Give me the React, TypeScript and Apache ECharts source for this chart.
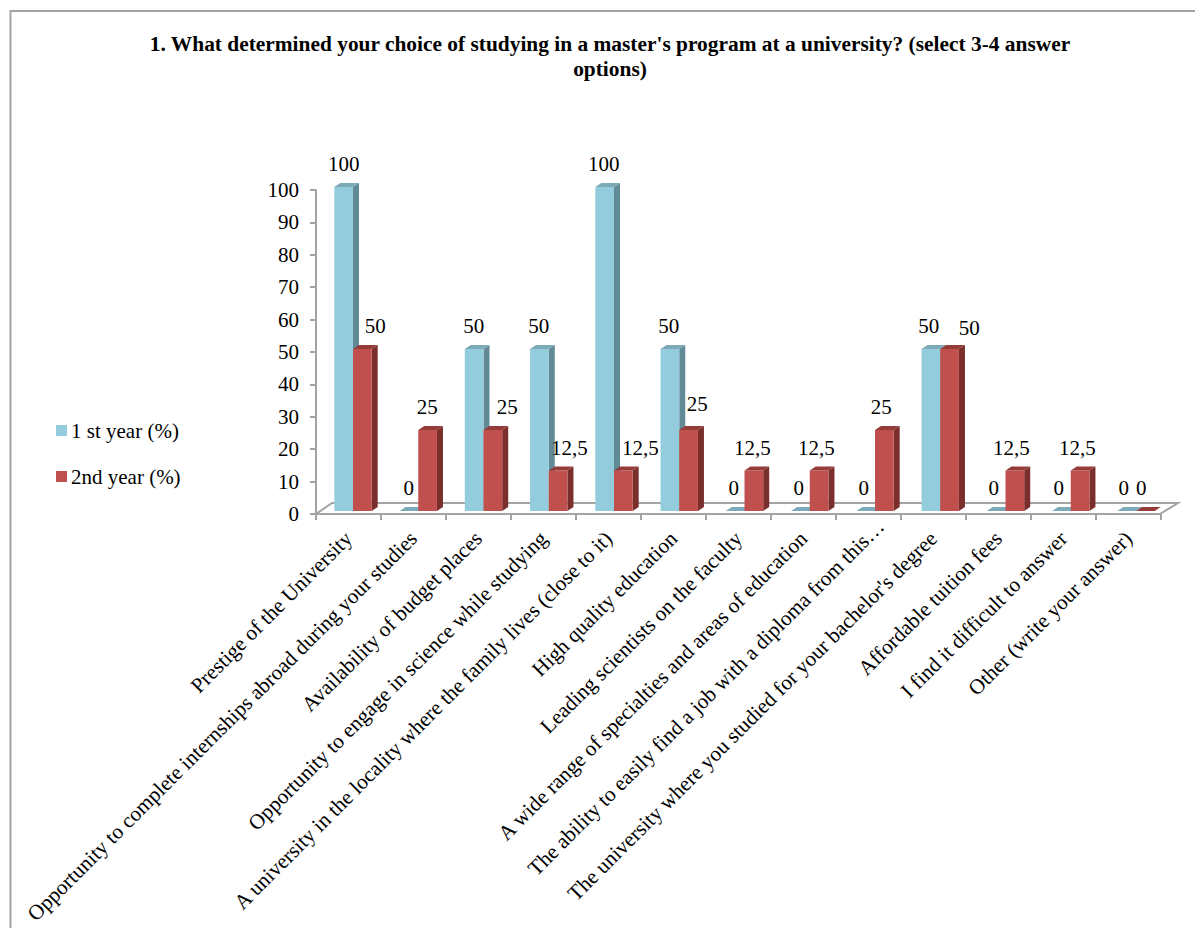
import React, { useEffect, useRef } from "react";
import * as echarts from "echarts";

const categories = [
  "Prestige of the University",
  "Opportunity to complete internships abroad during your studies",
  "Availability of budget places",
  "Opportunity to engage in science while studying",
  "A university in the locality where the family lives (close to it)",
  "High quality education",
  "Leading scientists on the faculty",
  "A wide range of specialties and areas of education",
  "The ability to easily find a job with a diploma from this…",
  "The university where you studied for your bachelor's degree",
  "Affordable tuition fees",
  "I find it difficult to answer",
  "Other (write your answer)",
];
const firstYear = [100, 0, 50, 50, 100, 50, 0, 0, 0, 50, 0, 0, 0];
const secondYear = [50, 25, 25, 12.5, 12.5, 25, 12.5, 12.5, 25, 50, 12.5, 12.5, 0];
const yTicks = { min: 0, max: 100, interval: 10 };
const titleText =
  "1. What determined your choice of studying in a master's program at a university? (select 3-4 answer\noptions)";

// hand-placed label shifts seen in the reference, in pixels
const secondLabelShiftX = [13, 0, 15, 12, 18, 10, 0, -1, -1, 22, -1, 0, -1];
const secondLabelShiftY = [0, 0, 0, 0, 0, -3, 0, 0, 0, 2, 0, 0, 0];
const TRUNCATED_CATEGORY = 8;

const FONT = '"Liberation Serif", "Times New Roman", serif';
const GRAY = "#a3a3a3";
const GRID = { left: 316, top: 190, width: 845, height: 324 };
const BAR_W = 18.7;
const BAR_DRIFT = 0.25;
const DX = 6;
const DY = 4;

const palette = [
  { front: "#93cddd", side: "#5f8a96", top: "#7caab7" },
  { front: "#c0504d", side: "#7a2f2d", top: "#953b38" },
];

function makeRender(seriesIndex: number, shiftX: number[], shiftY: number[]) {
  const c = palette[seriesIndex];
  return (params: any, api: any) => {
    const i = api.value(0);
    const v = api.value(1);
    const [cx, yBase] = api.coord([i, 0]);
    const yTop = api.coord([i, v])[1] - 3;
    const y0 = yBase - 3;
    const xLabel = cx + 4.5 + (seriesIndex === 0 ? -BAR_W : 0);
    const x0 = xLabel + BAR_DRIFT * i;
    const x1 = x0 + BAR_W;
    const children: any[] = [];
    if (v > 0) {
      children.push({
        type: "polygon",
        shape: { points: [[x1, yTop], [x1 + DX, yTop - DY], [x1 + DX, y0 - DY], [x1, y0]] },
        style: { fill: c.side },
      });
      children.push({
        type: "rect",
        shape: { x: x0, y: yTop, width: BAR_W, height: y0 - yTop },
        style: { fill: c.front },
      });
    }
    children.push({
      type: "polygon",
      shape: { points: [[x0, yTop], [x1, yTop], [x1 + DX, yTop - DY], [x0 + DX, yTop - DY]] },
      style: { fill: c.top },
    });
    children.push({
      type: "text",
      style: {
        text: String(v).replace(".", ","),
        x: xLabel + BAR_W / 2 + shiftX[params.dataIndex],
        y: yTop - 23 + shiftY[params.dataIndex],
        fill: "#000",
        font: `21px ${FONT}`,
        align: "center",
        verticalAlign: "middle",
      },
    });
    return { type: "group", children };
  };
}

export default function App() {
  const ref = useRef<HTMLDivElement>(null);
  useEffect(() => {
    const chart = echarts.init(ref.current!, undefined, { renderer: "svg" });
    const zeros = categories.map(() => 0);
    chart.setOption({
      animation: false,
      backgroundColor: "#fff",
      textStyle: { fontFamily: FONT },
      title: {
        text: titleText,
        left: 605,
        top: 26,
        textAlign: "center",
        textStyle: { fontFamily: FONT, fontSize: 21.4, fontWeight: "bold", color: "#000", lineHeight: 25 },
      },
      legend: {
        orient: "vertical",
        left: 51,
        top: 415,
        itemWidth: 11,
        itemHeight: 11,
        itemGap: 25,
        icon: "rect",
        textStyle: { fontFamily: FONT, fontSize: 21, color: "#000", padding: [0, 0, 0, -1] },
        data: ["1 st year (%)", "2nd year (%)"],
      },
      grid: { ...GRID, containLabel: false },
      xAxis: {
        type: "category",
        data: categories.map((value, i) =>
          i === TRUNCATED_CATEGORY ? { value, textStyle: { padding: [0, -17, 0, 0] } } : value
        ),
        axisLine: { lineStyle: { color: GRAY, width: 2 } },
        axisTick: { show: true, length: 6, alignWithLabel: false, lineStyle: { color: GRAY, width: 2 } },
        axisLabel: { interval: 0, rotate: 45, fontFamily: FONT, fontSize: 21.3, color: "#000", margin: 21 },
      },
      yAxis: {
        type: "value",
        ...yTicks,
        axisLine: { show: true, lineStyle: { color: GRAY, width: 2 } },
        axisTick: { show: true, length: 6, lineStyle: { color: GRAY, width: 2 } },
        axisLabel: { fontFamily: FONT, fontSize: 21, color: "#000", margin: 17 },
        splitLine: { show: false },
      },
      graphic: [
        { type: "line", z: -1, shape: { x1: 10.5, y1: 10, x2: 10.5, y2: 928 }, style: { stroke: GRAY, lineWidth: 2 } },
        { type: "line", z: -1, shape: { x1: 10, y1: 11, x2: 1195, y2: 11 }, style: { stroke: GRAY, lineWidth: 2 } },
        {
          type: "polyline",
          z: -1,
          shape: { points: [[316, 514], [332, 503], [1178, 503], [1160, 514]] },
          style: { stroke: GRAY, lineWidth: 2, fill: "none" },
        },
      ],
      series: [
        {
          type: "custom",
          name: "1 st year (%)",
          z: 3,
          itemStyle: { color: palette[0].front },
          encode: { x: 0, y: 1 },
          renderItem: makeRender(0, zeros, zeros),
          data: firstYear.map((v, i) => [i, v]),
        },
        {
          type: "custom",
          name: "2nd year (%)",
          z: 4,
          itemStyle: { color: palette[1].front },
          encode: { x: 0, y: 1 },
          renderItem: makeRender(1, secondLabelShiftX, secondLabelShiftY),
          data: secondYear.map((v, i) => [i, v]),
        },
      ],
    });
    return () => chart.dispose();
  }, []);
  return <div ref={ref} style={{ position: "fixed", left: 0, top: 0, width: 1195, height: 928 }} />;
}
